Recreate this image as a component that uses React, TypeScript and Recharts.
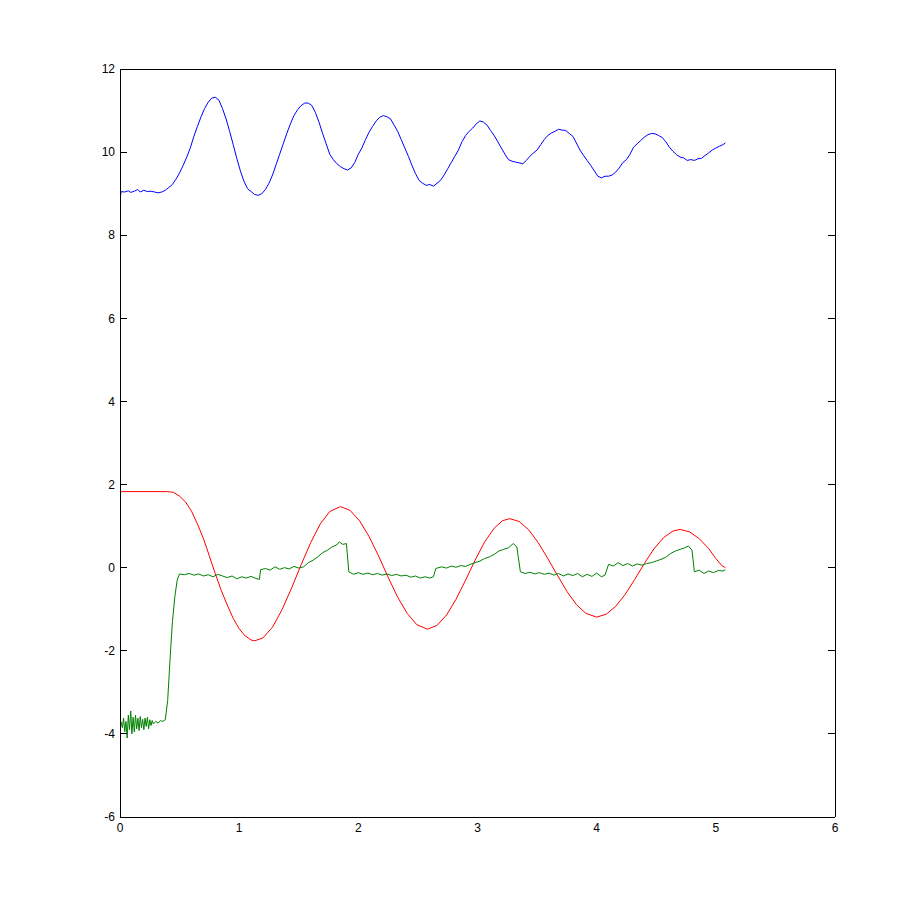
import React from 'react';
import { LineChart, Line, XAxis, YAxis } from 'recharts';

const xTicks = [0, 1, 2, 3, 4, 5, 6];
const yTicks = [-6, -4, -2, 0, 2, 4, 6, 8, 10, 12];

const blueT = [0.00,0.01,0.04,0.07,0.09,0.12,0.15,0.17,0.20,0.23,0.26,0.29,0.32,0.35,0.38,0.41,0.44,0.47,0.50,0.53,0.56,0.59,0.62,0.65,0.68,0.71,0.74,0.77,0.80,0.83,0.86,0.89,0.92,0.95,0.98,1.01,1.04,1.07,1.10,1.13,1.16,1.19,1.22,1.25,1.28,1.31,1.34,1.37,1.40,1.43,1.46,1.49,1.52,1.55,1.58,1.61,1.64,1.67,1.70,1.73,1.76,1.79,1.82,1.85,1.88,1.91,1.94,1.97,2.00,2.03,2.06,2.09,2.12,2.15,2.18,2.21,2.24,2.27,2.30,2.33,2.36,2.39,2.42,2.45,2.48,2.51,2.54,2.57,2.60,2.63,2.66,2.69,2.72,2.75,2.78,2.81,2.84,2.87,2.90,2.93,2.96,2.99,3.02,3.05,3.08,3.11,3.14,3.17,3.20,3.23,3.26,3.29,3.32,3.35,3.38,3.41,3.44,3.47,3.50,3.53,3.56,3.59,3.62,3.65,3.68,3.71,3.74,3.77,3.80,3.83,3.86,3.89,3.92,3.95,3.98,4.01,4.04,4.07,4.10,4.13,4.16,4.19,4.22,4.25,4.28,4.31,4.34,4.37,4.40,4.43,4.46,4.49,4.52,4.55,4.58,4.61,4.64,4.67,4.70,4.73,4.76,4.79,4.82,4.85,4.88,4.91,4.94,4.97,5.00,5.03,5.06,5.08];
const blueV = [8.88,9.05,9.04,9.07,9.03,9.06,9.10,9.04,9.08,9.05,9.06,9.04,9.02,9.04,9.08,9.15,9.22,9.35,9.50,9.68,9.88,10.10,10.38,10.62,10.85,11.05,11.20,11.30,11.32,11.25,11.05,10.80,10.50,10.18,9.85,9.55,9.30,9.12,9.05,8.98,8.96,9.00,9.10,9.25,9.45,9.70,9.95,10.20,10.45,10.68,10.88,11.02,11.12,11.18,11.18,11.12,10.95,10.72,10.45,10.20,9.95,9.82,9.72,9.65,9.60,9.57,9.62,9.75,9.95,10.10,10.30,10.48,10.62,10.75,10.84,10.88,10.85,10.80,10.65,10.50,10.30,10.10,9.90,9.68,9.48,9.32,9.25,9.20,9.22,9.18,9.25,9.32,9.45,9.60,9.75,9.90,10.05,10.25,10.40,10.50,10.58,10.68,10.75,10.72,10.65,10.52,10.40,10.25,10.10,9.95,9.82,9.78,9.76,9.74,9.72,9.80,9.90,9.98,10.05,10.18,10.30,10.40,10.46,10.50,10.55,10.53,10.52,10.45,10.38,10.22,10.05,9.92,9.80,9.68,9.55,9.42,9.38,9.42,9.42,9.45,9.52,9.62,9.75,9.82,9.95,10.12,10.20,10.28,10.36,10.42,10.45,10.44,10.40,10.35,10.25,10.12,10.02,9.94,9.88,9.86,9.80,9.82,9.80,9.84,9.85,9.92,9.98,10.05,10.10,10.14,10.18,10.22];

const redT = [0.00,0.40,0.45,0.50,0.55,0.60,0.65,0.70,0.75,0.80,0.85,0.90,0.95,1.00,1.05,1.10,1.13,1.20,1.28,1.36,1.44,1.52,1.60,1.68,1.76,1.85,1.93,2.01,2.09,2.17,2.25,2.33,2.41,2.49,2.58,2.66,2.74,2.82,2.90,2.98,3.06,3.14,3.21,3.27,3.35,3.43,3.51,3.59,3.67,3.75,3.83,3.91,4.00,4.08,4.16,4.24,4.32,4.40,4.48,4.56,4.64,4.70,4.78,4.86,4.94,5.00,5.05,5.08];
const redV = [1.83,1.83,1.81,1.72,1.58,1.36,1.05,0.70,0.28,-0.15,-0.55,-0.90,-1.22,-1.47,-1.64,-1.74,-1.76,-1.69,-1.43,-1.01,-0.49,0.07,0.60,1.05,1.35,1.47,1.38,1.13,0.75,0.28,-0.23,-0.71,-1.10,-1.37,-1.48,-1.39,-1.14,-0.76,-0.30,0.18,0.62,0.95,1.13,1.18,1.11,0.91,0.60,0.22,-0.18,-0.57,-0.89,-1.10,-1.19,-1.12,-0.93,-0.64,-0.28,0.10,0.45,0.72,0.88,0.92,0.86,0.70,0.46,0.22,0.05,0.00];

const greenT = [0.00,0.01,0.02,0.03,0.04,0.05,0.06,0.07,0.08,0.09,0.10,0.11,0.12,0.13,0.14,0.15,0.16,0.17,0.18,0.19,0.20,0.21,0.22,0.23,0.24,0.25,0.26,0.27,0.28,0.30,0.32,0.34,0.36,0.38,0.40,0.42,0.44,0.46,0.48,0.50,0.54,0.58,0.62,0.66,0.70,0.74,0.78,0.82,0.86,0.90,0.94,0.98,1.02,1.06,1.10,1.14,1.17,1.18,1.22,1.26,1.30,1.34,1.38,1.42,1.46,1.50,1.54,1.58,1.62,1.66,1.70,1.74,1.78,1.82,1.84,1.87,1.90,1.92,1.96,2.00,2.04,2.08,2.12,2.16,2.20,2.24,2.28,2.32,2.36,2.40,2.44,2.48,2.52,2.56,2.60,2.63,2.65,2.70,2.74,2.78,2.82,2.86,2.90,2.94,2.98,3.02,3.06,3.10,3.14,3.18,3.22,3.26,3.30,3.33,3.36,3.40,3.44,3.48,3.52,3.56,3.60,3.64,3.68,3.72,3.76,3.80,3.84,3.88,3.92,3.96,4.00,4.04,4.07,4.10,4.14,4.18,4.22,4.26,4.30,4.34,4.38,4.42,4.46,4.50,4.54,4.58,4.62,4.66,4.70,4.74,4.77,4.80,4.82,4.86,4.90,4.94,4.98,5.02,5.06,5.08];
const greenV = [-3.80,-3.72,-3.85,-3.62,-3.95,-3.70,-4.10,-3.55,-3.90,-3.45,-4.00,-3.60,-3.95,-3.55,-3.88,-3.62,-3.92,-3.58,-3.85,-3.65,-3.90,-3.62,-3.82,-3.60,-3.88,-3.66,-3.80,-3.68,-3.76,-3.70,-3.74,-3.68,-3.70,-3.66,-3.20,-2.20,-1.30,-0.70,-0.30,-0.15,-0.17,-0.14,-0.18,-0.15,-0.20,-0.17,-0.22,-0.16,-0.20,-0.24,-0.20,-0.27,-0.22,-0.25,-0.21,-0.26,-0.28,-0.05,-0.02,-0.06,0.02,-0.04,0.00,-0.03,0.03,-0.01,0.02,0.12,0.18,0.26,0.36,0.42,0.50,0.55,0.62,0.56,0.58,-0.10,-0.16,-0.12,-0.16,-0.13,-0.17,-0.14,-0.18,-0.15,-0.19,-0.16,-0.20,-0.18,-0.23,-0.20,-0.25,-0.22,-0.25,-0.22,-0.02,0.02,-0.01,0.04,0.01,0.05,0.03,0.08,0.12,0.16,0.22,0.26,0.32,0.40,0.44,0.48,0.58,0.50,-0.10,-0.14,-0.11,-0.15,-0.12,-0.16,-0.13,-0.18,-0.14,-0.20,-0.15,-0.19,-0.14,-0.22,-0.16,-0.21,-0.13,-0.22,-0.18,0.08,0.04,0.12,0.05,0.10,0.04,0.09,0.06,0.10,0.12,0.16,0.20,0.25,0.34,0.40,0.44,0.48,0.52,0.42,-0.10,-0.06,-0.14,-0.08,-0.12,-0.07,-0.08,-0.05];

const toPoints = (ts: number[], vs: number[]) => ts.map((t, i) => ({ t, v: vs[i] }));
const blueData = toPoints(blueT, blueV);
const redData = toPoints(redT, redV);
const greenData = toPoints(greenT, greenV);

const tickStyle = { fill: '#000', fontSize: 12, fontFamily: 'Liberation Sans, Arial, sans-serif' };
const blank = () => '';
const lineStyle = { stroke: '#000', shapeRendering: 'crispEdges' as const };

export default function App() {
  return (
    <div style={{ width: 915, height: 910, background: '#fff' }}>
      <LineChart width={915} height={910} margin={{ top: 61, right: 88, bottom: 71, left: 72 }}>
        <XAxis xAxisId="bm" orientation="bottom" mirror type="number" domain={[0, 6]} ticks={xTicks} allowDataOverflow
          tickFormatter={blank} tickSize={7} height={0.001} interval={0}
          axisLine={lineStyle} tickLine={lineStyle} />
        <XAxis dataKey="t" type="number" domain={[0, 6]} ticks={xTicks} allowDataOverflow interval={0}
          tick={tickStyle} tickSize={0} tickMargin={6} height={30}
          axisLine={false} tickLine={false} />
        <XAxis xAxisId="top" orientation="top" mirror type="number" domain={[0, 6]} ticks={xTicks} allowDataOverflow
          tickFormatter={blank} tickSize={7} height={0.001} interval={0}
          axisLine={lineStyle} tickLine={lineStyle} />
        <YAxis yAxisId="lm" orientation="left" mirror type="number" domain={[-6, 12]} ticks={yTicks} allowDataOverflow
          tickFormatter={blank} tickSize={7} width={0.001} interval={0}
          axisLine={lineStyle} tickLine={lineStyle} />
        <YAxis type="number" domain={[-6, 12]} ticks={yTicks} allowDataOverflow
          tick={tickStyle} tickSize={0} tickMargin={5} width={40} interval={0}
          axisLine={false} tickLine={false} />
        <YAxis yAxisId="right" orientation="right" mirror type="number" domain={[-6, 12]} ticks={yTicks} allowDataOverflow
          tickFormatter={blank} tickSize={7} width={0.001} interval={0}
          axisLine={lineStyle} tickLine={lineStyle} />
        <Line data={blueData} dataKey="v" type="linear" stroke="#0000ff" strokeWidth={1} dot={false} isAnimationActive={false} />
        <Line data={redData} dataKey="v" type="linear" stroke="#ff0000" strokeWidth={1} dot={false} isAnimationActive={false} />
        <Line data={greenData} dataKey="v" type="linear" stroke="#008000" strokeWidth={1} dot={false} isAnimationActive={false} />
      </LineChart>
    </div>
  );
}
